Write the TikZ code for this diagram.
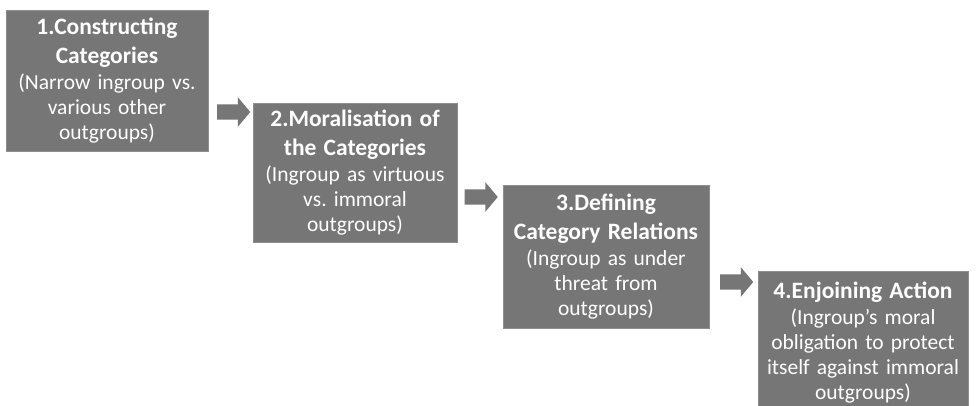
\documentclass[tikz,border=0pt]{standalone}
\usepackage{fontspec}
\setmainfont{Carlito}
\usetikzlibrary{shapes.arrows}
\frenchspacing
\definecolor{boxgray}{HTML}{767676}
\definecolor{edgegray}{HTML}{8E8E8E}
\tikzset{
  stagebox/.style={fill=boxgray, draw=edgegray, line width=0.8pt, text=white, align=center,
    inner sep=0pt, font=\fontsize{21.5}{25}\selectfont},
  blockarrow/.style={single arrow, fill=boxgray, draw=none, inner sep=7.5pt,
    minimum height=33pt, single arrow head extend=7pt, single arrow tip angle=100}
}
\newcommand{\stitle}[1]{{\fontsize{23.5}{28.5}\selectfont\bfseries #1}}
\begin{document}
\begin{tikzpicture}[x=1pt,y=-1pt]
\useasboundingbox (0,0) rectangle (976,406);
\fill[white] (0,0) rectangle (976,406);
\begin{scope}
\clip (0,0) rectangle (976,406);
\node[stagebox, minimum width=202pt, minimum height=141pt, text width=200pt] (b1) at (107,80.5)
  {\stitle{1.Constructing}\\[4pt]\stitle{Categories}\\[1pt](Narrow ingroup vs.\\various other\\outgroups)};
\node[stagebox, minimum width=204pt, minimum height=139pt, text width=202pt] (b2) at (355,172.5)
  {\stitle{2.Moralisation of}\\[4pt]\stitle{the Categories}\\[1pt](Ingroup as virtuous\\vs. immoral\\outgroups)};
\node[stagebox, minimum width=206pt, minimum height=143pt, text width=204pt] (b3) at (606,256.5)
  {\stitle{3.Defining}\\[4pt]\stitle{Category Relations}\\[1pt](Ingroup as under\\threat from\\outgroups)};
\node[stagebox, minimum width=210pt, minimum height=144pt, text width=208pt] (b4) at (863,343)
  {\stitle{4.Enjoining Action}\\[1pt](Ingroup's moral\\obligation to protect\\itself against immoral\\outgroups)};
\end{scope}
\node[blockarrow] (a1) at (230.5,112) {};
\node[blockarrow] (a2) at (478,197) {};
\node[blockarrow] (a3) at (733.5,282) {};
\end{tikzpicture}
\end{document}
